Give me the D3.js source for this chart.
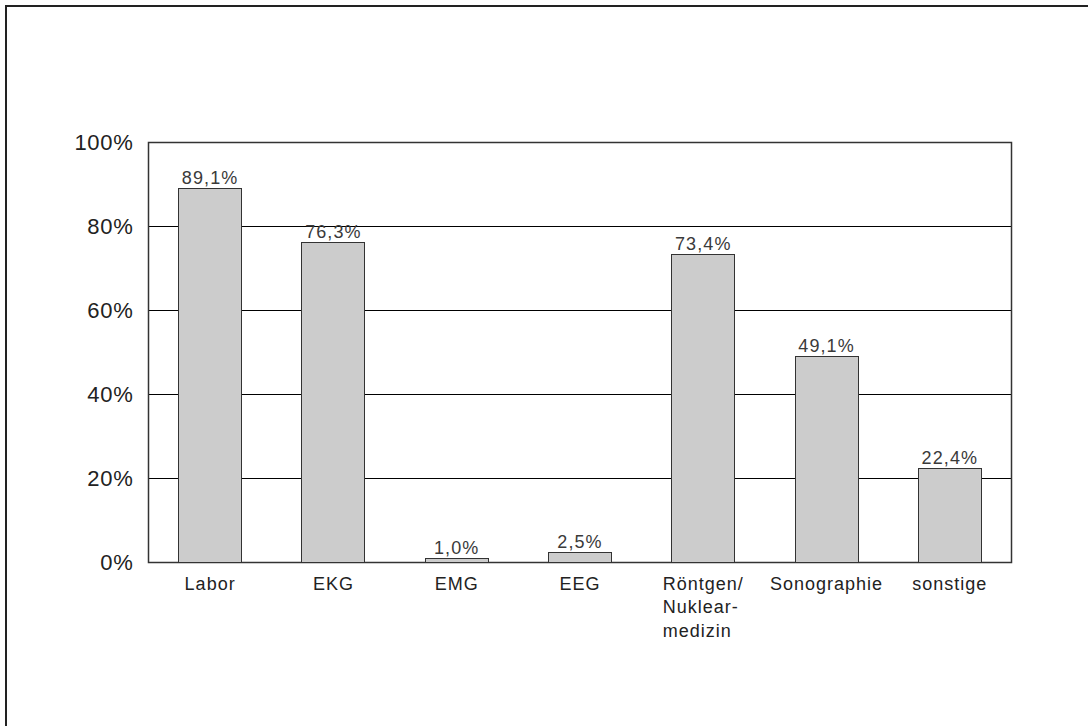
<!DOCTYPE html>
<html>
<head>
<meta charset="utf-8">
<script src="https://cdn.jsdelivr.net/npm/d3@7"></script>
<style>
  body { margin: 0; background: #fff; }
  text { font-family: "Liberation Sans", Arial, sans-serif; }
</style>
</head>
<body>
<div id="chart"></div>
<script>
// data
const categories = ["Labor", "EKG", "EMG", "EEG", "Röntgen/\nNuklear-\nmedizin", "Sonographie", "sonstige"];
const values = [89.1, 76.3, 1.0, 2.5, 73.4, 49.1, 22.4];
const yTicks = [0, 20, 40, 60, 80, 100];

const width = 1088, height = 726;
const margin = { top: 142, right: 77, bottom: 164, left: 148 };
const w = width - margin.left - margin.right;
const h = height - margin.top - margin.bottom;

const svg = d3.select("#chart")
  .append("svg")
  .attr("width", width)
  .attr("height", height);

// outer frame (top + left only)
svg.append("path")
  .attr("d", `M6,${height} L6,6 L${width},6`)
  .attr("fill", "none")
  .attr("stroke", "#222")
  .attr("stroke-width", 2);

const g = svg.append("g")
  .attr("transform", `translate(${margin.left + 0.5},${margin.top + 0.5})`);

const x = d3.scaleBand()
  .domain(d3.range(categories.length))
  .range([0, w])
  .paddingInner(0.49)
  .paddingOuter(0.245);

const y = d3.scaleLinear()
  .domain([0, 100])
  .range([h, 0]);

// gridlines
g.selectAll(".grid")
  .data(yTicks)
  .join("line")
  .attr("x1", 0).attr("x2", w)
  .attr("y1", d => Math.round(y(d))).attr("y2", d => Math.round(y(d)))
  .attr("stroke", "#000")
  .attr("stroke-width", 1);

// plot frame
g.append("rect")
  .attr("x", 0).attr("y", 0)
  .attr("width", w).attr("height", h)
  .attr("fill", "none")
  .attr("stroke", "#333")
  .attr("stroke-width", 1.5);

// y tick labels
g.selectAll(".ytick")
  .data(yTicks)
  .join("text")
  .attr("x", -15)
  .attr("y", d => y(d))
  .attr("dy", "0.36em")
  .attr("text-anchor", "end")
  .attr("font-size", 22)
  .attr("letter-spacing", 0.7)
  .attr("fill", "#222")
  .text(d => d + "%");

// bars
g.selectAll(".bar")
  .data(values)
  .join("rect")
  .attr("x", (d, i) => Math.round(x(i)))
  .attr("y", d => Math.round(y(d)))
  .attr("width", Math.round(x.bandwidth()))
  .attr("height", d => h - Math.round(y(d)))
  .attr("fill", "#cccccc")
  .attr("stroke", "#333")
  .attr("stroke-width", 1);

// value labels
g.selectAll(".val")
  .data(values)
  .join("text")
  .attr("x", (d, i) => x(i) + x.bandwidth() / 2)
  .attr("y", d => y(d) - 4)
  .attr("text-anchor", "middle")
  .attr("font-size", 18)
  .attr("letter-spacing", 1.1)
  .attr("fill", "#3a3a3a")
  .text(d => d.toFixed(1).replace(".", ",") + "%");

// category labels (multi-line, left aligned inside a centred block)
categories.forEach((c, i) => {
  const lines = c.split("\n");
  const t = g.append("text")
    .attr("font-size", 18)
    .attr("letter-spacing", 1)
    .attr("fill", "#222");
  lines.forEach((l, k) => {
    t.append("tspan")
      .attr("y", h + 27 + k * 23.5)
      .text(l);
  });
  let maxW = 0;
  t.selectAll("tspan").each(function () {
    maxW = Math.max(maxW, this.getComputedTextLength());
  });
  const cx = x(i) + x.bandwidth() / 2;
  t.selectAll("tspan").attr("x", cx - maxW / 2);
});
</script>
</body>
</html>
